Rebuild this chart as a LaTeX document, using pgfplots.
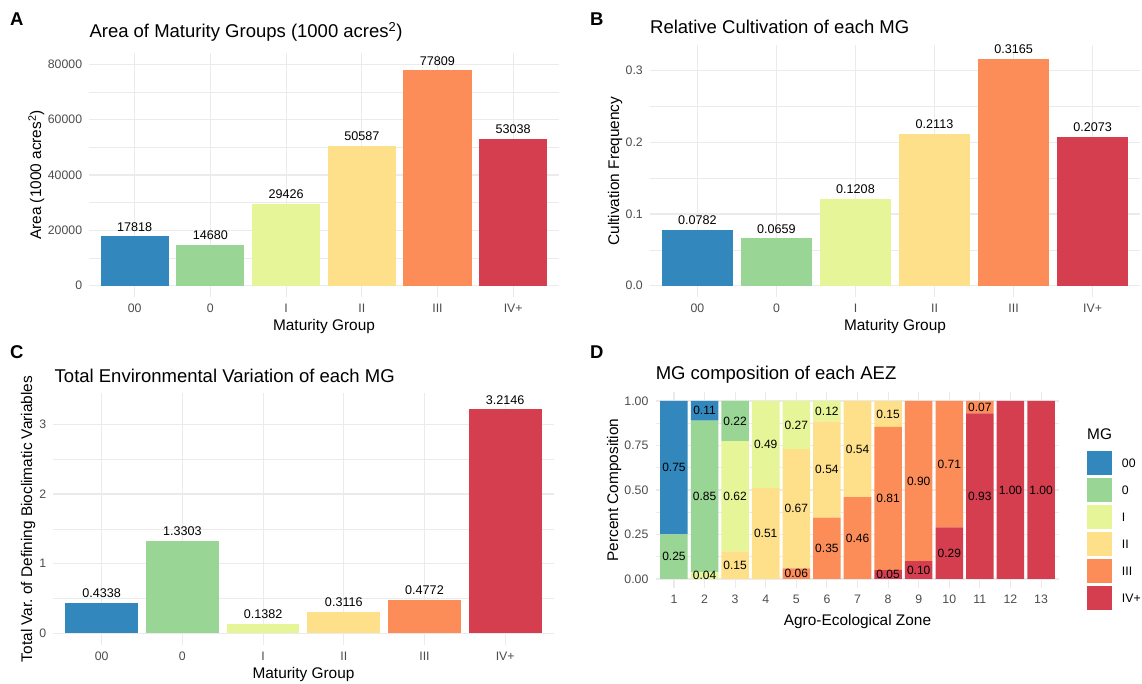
\documentclass[border=0pt]{standalone}
\usepackage{fontspec}
\setmainfont{Liberation Sans}
\usepackage{pgfplots}
\pgfplotsset{compat=1.18}
\frenchspacing
\definecolor{c00}{HTML}{3288BD}
\definecolor{c0}{HTML}{99D594}
\definecolor{cI}{HTML}{E6F598}
\definecolor{cII}{HTML}{FEE08B}
\definecolor{cIII}{HTML}{FC8D59}
\definecolor{cIV}{HTML}{D53E4F}
\definecolor{gridc}{HTML}{EBEBEB}
\definecolor{tickc}{HTML}{4D4D4D}
\newcommand{\fs}[1]{\fontsize{#1}{#1}\selectfont}
\pgfplotsset{
  base/.style={
    scale only axis, anchor=south west,
    axis line style={draw=none},
    major tick length=0pt, minor tick length=0pt,
    tick style={draw=none},
    scaled y ticks=false, scaled x ticks=false,
    ymajorgrids, yminorgrids, xmajorgrids,
    major grid style={color=gridc, line width=1.1pt},
    minor grid style={color=gridc, line width=0.55pt},
    tick label style={font=\fs{12.3}, text=tickc, inner sep=0pt},
    xticklabel style={anchor=north, yshift=-6.8pt},
    yticklabel style={anchor=east, xshift=-7pt},
  },
  mg/.style={
    base, xmin=0.4, xmax=6.6,
    xtick={1,2,3,4,5,6}, xticklabels={00,0,I,II,III,IV+},
    ybar, bar width=0.9,
    nodes near coords, point meta=explicit symbolic,
    nodes near coords style={font=\fs{12.6}, text=black, anchor=south, inner sep=0pt, yshift=5pt},
  },
  mybar/.style={fill=#1, draw=none, bar shift=0pt},
}
\begin{document}
\begin{tikzpicture}
\path[use as bounding box, fill=white] (0pt,0pt) rectangle (1142pt,684pt);

% ---------- A ----------
\begin{axis}[mg, at={(89.3pt,387.2pt)}, width=469.3pt, height=243.6pt,
  ymin=-4000, ymax=84000,
  ytick={0,20000,40000,60000,80000}, yticklabels={0,20000,40000,60000,80000},
  minor ytick={10000,30000,50000,70000}]
\addplot[mybar=c00] coordinates {(1,17818) [17818]};
\addplot[mybar=c0] coordinates {(2,14680) [14680]};
\addplot[mybar=cI] coordinates {(3,29426) [29426]};
\addplot[mybar=cII] coordinates {(4,50587) [50587]};
\addplot[mybar=cIII] coordinates {(5,77809) [77809]};
\addplot[mybar=cIV] coordinates {(6,53038) [53038]};
\end{axis}

% ---------- B ----------
\begin{axis}[mg, at={(650pt,386.8pt)}, width=490pt, height=252.2pt,
  ymin=-0.016, ymax=0.3358,
  ytick={0,0.1,0.2,0.3}, yticklabels={0.0,0.1,0.2,0.3},
  minor ytick={0.05,0.15,0.25}]
\addplot[mybar=c00] coordinates {(1,0.0782) [0.0782]};
\addplot[mybar=c0] coordinates {(2,0.0659) [0.0659]};
\addplot[mybar=cI] coordinates {(3,0.1208) [0.1208]};
\addplot[mybar=cII] coordinates {(4,0.2113) [0.2113]};
\addplot[mybar=cIII] coordinates {(5,0.3165) [0.3165]};
\addplot[mybar=cIV] coordinates {(6,0.2073) [0.2073]};
\end{axis}

% ---------- C ----------
\begin{axis}[mg, at={(53.3pt,39.3pt)}, width=500.3pt, height=251.4pt,
  ymin=-0.164, ymax=3.445,
  ytick={0,1,2,3}, yticklabels={0,1,2,3},
  minor ytick={0.5,1.5,2.5}]
\addplot[mybar=c00] coordinates {(1,0.4338) [0.4338]};
\addplot[mybar=c0] coordinates {(2,1.3303) [1.3303]};
\addplot[mybar=cI] coordinates {(3,0.1382) [0.1382]};
\addplot[mybar=cII] coordinates {(4,0.3116) [0.3116]};
\addplot[mybar=cIII] coordinates {(5,0.4772) [0.4772]};
\addplot[mybar=cIV] coordinates {(6,3.2146) [3.2146]};
\end{axis}

% ---------- D ----------
\begin{axis}[base, at={(655.6pt,96.1pt)}, width=403.8pt, height=195.8pt,
  xmin=0.4, xmax=13.6, ymin=-0.05, ymax=1.05,
  xtick={1,...,13},
  xticklabels={1,2,3,4,5,6,7,8,9,10,11,12,13},
  ytick={0,0.25,0.5,0.75,1}, yticklabels={0.00,0.25,0.50,0.75,1.00},
  minor ytick={0.125,0.375,0.625,0.875},
  ybar stacked, bar width=0.9]
\addplot[fill=cIV, draw=none] coordinates {(1,0)(2,0)(3,0)(4,0)(5,0)(6,0)(7,0)(8,0.05)(9,0.10)(10,0.29)(11,0.93)(12,1)(13,1)};
\addplot[fill=cIII, draw=none] coordinates {(1,0)(2,0)(3,0)(4,0)(5,0.06)(6,0.345)(7,0.46)(8,0.805)(9,0.90)(10,0.71)(11,0.07)(12,0)(13,0)};
\addplot[fill=cII, draw=none] coordinates {(1,0)(2,0)(3,0.155)(4,0.51)(5,0.67)(6,0.54)(7,0.54)(8,0.145)(9,0)(10,0)(11,0)(12,0)(13,0)};
\addplot[fill=cI, draw=none] coordinates {(1,0)(2,0.04)(3,0.62)(4,0.49)(5,0.27)(6,0.115)(7,0)(8,0)(9,0)(10,0)(11,0)(12,0)(13,0)};
\addplot[fill=c0, draw=none] coordinates {(1,0.25)(2,0.85)(3,0.225)(4,0)(5,0)(6,0)(7,0)(8,0)(9,0)(10,0)(11,0)(12,0)(13,0)};
\addplot[fill=c00, draw=none] coordinates {(1,0.75)(2,0.11)(3,0)(4,0)(5,0)(6,0)(7,0)(8,0)(9,0)(10,0)(11,0)(12,0)(13,0)};
\end{axis}
\begin{axis}[scale only axis, anchor=south west, hide axis, at={(655.6pt,96.1pt)}, width=403.8pt, height=195.8pt,
  xmin=0.4, xmax=13.6, ymin=-0.05, ymax=1.05, clip=false]
\addplot[draw=none, mark=none, nodes near coords, point meta=explicit symbolic,
  nodes near coords style={font=\fs{12}, text=black, anchor=center, inner sep=0pt}]
 coordinates {
 (1,0.125)[0.25] (1,0.625)[0.75]
 (2,0.02)[0.04] (2,0.465)[0.85] (2,0.945)[0.11]
 (3,0.0775)[0.15] (3,0.465)[0.62] (3,0.8875)[0.22]
 (4,0.255)[0.51] (4,0.755)[0.49]
 (5,0.03)[0.06] (5,0.395)[0.67] (5,0.865)[0.27]
 (6,0.1725)[0.35] (6,0.615)[0.54] (6,0.9425)[0.12]
 (7,0.23)[0.46] (7,0.73)[0.54]
 (8,0.025)[0.05] (8,0.4525)[0.81] (8,0.9275)[0.15]
 (9,0.05)[0.10] (9,0.55)[0.90]
 (10,0.145)[0.29] (10,0.645)[0.71]
 (11,0.465)[0.93] (11,0.965)[0.07]
 (12,0.5)[1.00] (13,0.5)[1.00]
 };
\end{axis}

% ---------- titles, tags, axis titles ----------
\node[font=\fs{18.5}, anchor=base west, inner sep=0pt] at (89.3pt,646.5pt) {Area of Maturity Groups (1000 acres\textsuperscript{2})};
\node[font=\fs{18.5}, anchor=base west, inner sep=0pt] at (650pt,650.7pt) {Relative Cultivation of each MG};
\node[font=\fs{18.5}, anchor=base west, inner sep=0pt] at (54.5pt,301.5pt) {Total Environmental Variation of each MG};
\node[font=\fs{18.5}, anchor=base west, inner sep=0pt] at (655.6pt,304pt) {MG composition of each AEZ};

\node[font=\fs{18.5}\bfseries, anchor=base west, inner sep=0pt] at (10pt,658pt) {A};
\node[font=\fs{18.5}\bfseries, anchor=base west, inner sep=0pt] at (590pt,658pt) {B};
\node[font=\fs{18.5}\bfseries, anchor=base west, inner sep=0pt] at (10pt,325pt) {C};
\node[font=\fs{18.5}\bfseries, anchor=base west, inner sep=0pt] at (590pt,325pt) {D};

\node[font=\fs{15.4}, anchor=base, inner sep=0pt] at (324pt,353pt) {Maturity Group};
\node[font=\fs{15.4}, anchor=base, inner sep=0pt] at (895pt,353pt) {Maturity Group};
\node[font=\fs{15.4}, anchor=base, inner sep=0pt] at (303.5pt,5.5pt) {Maturity Group};
\node[font=\fs{15.4}, anchor=base, inner sep=0pt] at (857.5pt,58.5pt) {Agro-Ecological Zone};

\node[font=\fs{15.4}, anchor=base, inner sep=0pt, rotate=90] at (41pt,509pt) {Area (1000 acres\textsuperscript{2})};
\node[font=\fs{15.4}, anchor=base, inner sep=0pt, rotate=90] at (619pt,512.9pt) {Cultivation Frequency};
\node[font=\fs{15.4}, anchor=base, inner sep=0pt, rotate=90] at (32pt,165pt) {Total Var.\ of Defining Bioclimatic Variables};
\node[font=\fs{15.4}, anchor=base, inner sep=0pt, rotate=90] at (618pt,194pt) {Percent Composition};

% ---------- legend D ----------
\node[font=\fs{15.4}, anchor=base west, inner sep=0pt] at (1087pt,244.5pt) {MG};
\foreach \c/\t [count=\k from 0] in {c00/00, c0/0, cI/I, cII/II, cIII/III, cIV/IV+}{
  \fill[\c] (1087pt,233pt-27pt*\k) rectangle (1111.5pt,208.5pt-27pt*\k);
  \node[font=\fs{12.3}, anchor=base west, inner sep=0pt] at (1121.7pt,216.35pt-27pt*\k) {\t};
}
\end{tikzpicture}
\end{document}
